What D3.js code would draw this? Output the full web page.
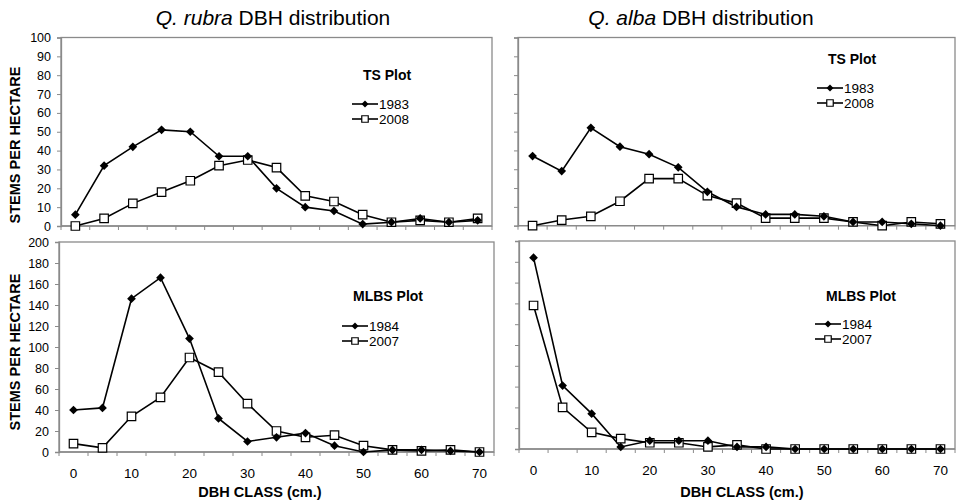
<!DOCTYPE html>
<html>
<head>
<meta charset="utf-8">
<script src="https://cdn.jsdelivr.net/npm/d3@7"></script>
<style>
  body { margin: 0; background: #fff; }
  text { font-family: "Liberation Sans", Arial, sans-serif; }
</style>
</head>
<body>
<div id="chart"></div>
<script>
// DBH classes (cm)
var dbhClasses = [0, 5, 10, 15, 20, 25, 30, 35, 40, 45, 50, 55, 60, 65, 70];

// Q. rubra, TS plot
var rubraTS1983 = [6, 32, 42, 51, 50, 37, 37, 20, 10, 8, 1, 2, 4, 2, 3];
var rubraTS2008 = [0, 4, 12, 18, 24, 32, 35, 31, 16, 13, 6, 2, 3, 2, 4];
// Q. alba, TS plot
var albaTS1983 = [37, 29, 52, 42, 38, 31, 18, 10, 6, 6, 5, 2, 2, 1, 0];
var albaTS2008 = [0, 3, 5, 13, 25, 25, 16, 12, 4, 4, 4, 2, 0, 2, 1];
// Q. rubra, MLBS plot
var rubraMLBS1984 = [40, 42, 146, 166, 108, 32, 10, 14, 18, 6, 0, 2, 2, 1, 0];
var rubraMLBS2007 = [8, 4, 34, 52, 90, 76, 46, 20, 14, 16, 6, 2, 1, 2, 0];
// Q. alba, MLBS plot
var albaMLBS1984 = [184, 61, 34, 2, 8, 8, 8, 2, 2, 0, 0, 0, 0, 0, 0];
var albaMLBS2007 = [138, 40, 16, 10, 6, 6, 2, 4, 0, 0, 0, 0, 0, 0, 0];

var tsTicks = [0, 10, 20, 30, 40, 50, 60, 70, 80, 90, 100];
var mlbsTicks = [0, 20, 40, 60, 80, 100, 120, 140, 160, 180, 200];

var svgWidth = 956;
var svgHeight = 502;

var svg = d3.select("#chart")
  .append("svg")
  .attr("width", svgWidth)
  .attr("height", svgHeight);

var panels = [
  {left: 61, right: 492, top: 37.5, bottom: 226, ticks: tsTicks, labels: true, xLabels: false,
   plot: "TS Plot", years: ["1983", "2008"], series: [rubraTS1983, rubraTS2008],
   legend: {x: 352, y: 80, dy: 24, gap: 15}},
  {left: 518, right: 955, top: 37.5, bottom: 225.7, ticks: tsTicks, labels: false, xLabels: false,
   plot: "TS Plot", years: ["1983", "2008"], series: [albaTS1983, albaTS2008],
   legend: {x: 817, y: 64, dy: 24, gap: 15}},
  {left: 59, right: 494, top: 242, bottom: 452, ticks: mlbsTicks, labels: true, xLabels: true,
   plot: "MLBS Plot", years: ["1984", "2007"], series: [rubraMLBS1984, rubraMLBS2007],
   legend: {x: 342, y: 301, dy: 25, gap: 15}},
  {left: 519, right: 955, top: 241, bottom: 449, ticks: mlbsTicks, labels: false, xLabels: true,
   plot: "MLBS Plot", years: ["1984", "2007"], series: [albaMLBS1984, albaMLBS2007],
   legend: {x: 815, y: 301, dy: 23, gap: 15}}
];

var diamond = d3.symbol().type(d3.symbolSquare).size(38);
var square = d3.symbol().type(d3.symbolSquare).size(72);
var legDiamond = d3.symbol().type(d3.symbolSquare).size(24);
var legSquare = d3.symbol().type(d3.symbolSquare).size(42);

function drawMarker(g, kind, x, y, small) {
  if (kind === 0) {
    g.append("path")
      .attr("d", small ? legDiamond() : diamond())
      .attr("transform", `translate(${x},${y}) rotate(45)`)
      .attr("fill", "#000");
  } else {
    g.append("path")
      .attr("d", small ? legSquare() : square())
      .attr("transform", `translate(${x},${y})`)
      .attr("fill", "#fff")
      .attr("stroke", "#000")
      .attr("stroke-width", 1.2);
  }
}

panels.forEach(function (p) {
  var x = d3.scaleBand()
    .domain(dbhClasses)
    .range([p.left, p.right])
    .padding(0);
  var y = d3.scaleLinear()
    .domain([0, d3.max(p.ticks)])
    .range([p.bottom, p.top]);

  var g = svg.append("g");

  // frame
  g.append("rect")
    .attr("x", p.left)
    .attr("y", p.top)
    .attr("width", p.right - p.left)
    .attr("height", p.bottom - p.top)
    .attr("fill", "none")
    .attr("stroke", "#8a8a8a")
    .attr("stroke-width", 1.3);

  // y axis
  var leftAxis = d3.axisLeft(y)
    .tickValues(p.ticks)
    .tickSize(4)
    .tickPadding(6)
    .tickFormat(p.labels ? d3.format("d") : "");
  var ya = g.append("g")
    .attr("transform", `translate(${p.left},0)`)
    .call(leftAxis);
  ya.select(".domain").attr("stroke", "#8a8a8a").attr("stroke-width", 1.3);
  ya.selectAll(".tick line").attr("stroke", "#8a8a8a");
  ya.selectAll(".tick text")
    .attr("fill", "#000")
    .style("font-size", "12.5px")
    .style("font-family", "'Liberation Sans', Arial, sans-serif");

  // x axis: ticks between categories
  var bounds = d3.range(dbhClasses.length + 1).map(i => p.left + i * x.bandwidth());
  var xa = g.append("g");
  xa.append("line")
    .attr("x1", p.left).attr("x2", p.right)
    .attr("y1", p.bottom).attr("y2", p.bottom)
    .attr("stroke", "#8a8a8a").attr("stroke-width", 1.3);
  xa.selectAll("line.tk")
    .data(bounds)
    .enter()
    .append("line")
    .attr("class", "tk")
    .attr("x1", d => d).attr("x2", d => d)
    .attr("y1", p.bottom).attr("y2", p.bottom + 4)
    .attr("stroke", "#8a8a8a");

  if (p.xLabels) {
    xa.selectAll("text.xl")
      .data(dbhClasses.filter(d => d % 10 === 0))
      .enter()
      .append("text")
      .attr("class", "xl")
      .attr("x", d => x(d) + x.bandwidth() / 2)
      .attr("y", p.bottom + 26)
      .attr("text-anchor", "middle")
      .style("font-size", "13.5px")
      .text(d => d);
  }

  // lines and markers
  var line = d3.line()
    .x((d, i) => x(dbhClasses[i]) + x.bandwidth() / 2)
    .y(d => y(d));

  p.series.slice().reverse().forEach(function (s) {
    g.append("path")
      .datum(s)
      .attr("d", line)
      .attr("fill", "none")
      .attr("stroke", "#000")
      .attr("stroke-width", 1.6);
  });
  p.series.slice().reverse().forEach(function (s, ri) {
    var k = p.series.length - 1 - ri;
    s.forEach(function (v, i) {
      drawMarker(g, k, x(dbhClasses[i]) + x.bandwidth() / 2, y(v), false);
    });
  });

  // legend
  var L = p.legend;
  g.append("text")
    .attr("x", L.x + 11)
    .attr("y", L.y)
    .style("font-size", "14px")
    .style("font-weight", "bold")
    .text(p.plot);
  p.years.forEach(function (yr, k) {
    var ly = L.y + L.dy + k * L.gap;
    g.append("line")
      .attr("x1", L.x).attr("x2", L.x + 26)
      .attr("y1", ly).attr("y2", ly)
      .attr("stroke", "#000").attr("stroke-width", 1.6);
    drawMarker(g, k, L.x + 13, ly, true);
    g.append("text")
      .attr("x", L.x + 27)
      .attr("y", ly + 5)
      .style("font-size", "13.5px")
      .text(yr);
  });
});

// titles
var titles = [
  {x: 273, sp: "Q. ", it: "rubra", rest: " DBH distribution"},
  {x: 701, sp: "Q. ", it: "alba", rest: " DBH distribution"}
];
titles.forEach(function (t) {
  var tx = svg.append("text")
    .attr("x", t.x)
    .attr("y", 25)
    .attr("text-anchor", "middle")
    .style("font-size", "21px");
  tx.append("tspan").style("font-style", "italic").text(t.sp + t.it);
  tx.append("tspan").text(t.rest);
});

// y axis titles
[{cy: 145}, {cy: 352}].forEach(function (d) {
  svg.append("text")
    .attr("transform", `translate(20,${d.cy}) rotate(-90)`)
    .attr("text-anchor", "middle")
    .style("font-size", "14.5px")
    .style("font-weight", "bold")
    .text("STEMS PER HECTARE");
});

// x axis titles
[260, 742].forEach(function (cx) {
  svg.append("text")
    .attr("x", cx)
    .attr("y", 497)
    .attr("text-anchor", "middle")
    .style("font-size", "14.5px")
    .style("font-weight", "bold")
    .text("DBH CLASS (cm.)");
});
</script>
</body>
</html>
